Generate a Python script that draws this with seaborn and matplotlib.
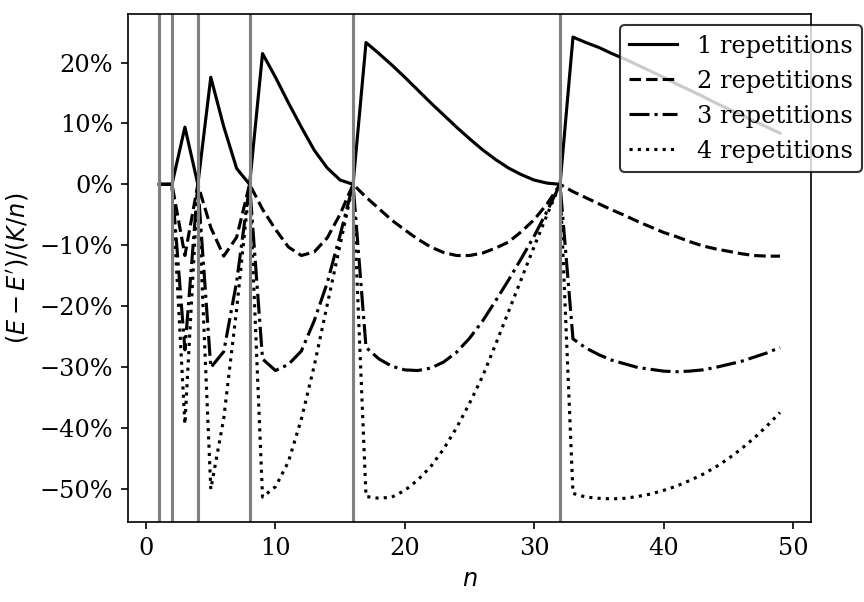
import matplotlib
matplotlib.use("Agg")
import matplotlib.pyplot as plt
from matplotlib.ticker import PercentFormatter
import seaborn as sns
import numpy as np

plt.rcParams['font.family'] = 'serif'
plt.rcParams['font.serif'] = ['DejaVu Serif']
plt.rcParams['mathtext.fontset'] = 'dejavusans'
plt.rcParams['font.size'] = 11.5

n = list(range(1, 50))

rep1 = [0, 0, 9.4, 0, 17.6, 9.5, 2.6, 0,
        21.5, 17.6, 13.4, 9.4, 5.6, 2.7, 0.7, 0,
        23.3, 21.5, 19.6, 17.6, 15.5, 13.4, 11.4, 9.4, 7.5, 5.7, 4.1, 2.7, 1.6, 0.7, 0.2, 0,
        24.2, 23.3, 22.5, 21.5, 20.6, 19.6, 18.6, 17.6, 16.5, 15.5, 14.5, 13.4, 12.4, 11.4, 10.4, 9.4, 8.4]

rep2 = [0, 0, -11.7, 0, -7.1, -11.8, -8.7, 0,
        -4.1, -7.4, -10.3, -11.7, -11.1, -8.8, -4.9, 0,
        -2.1, -4.0, -5.9, -7.5, -9.0, -10.3, -11.2, -11.7, -11.7, -11.3, -10.5, -9.5, -7.8, -5.8, -3.2, 0,
        -1.2, -2.2, -3.2, -4.2, -5.1, -6.1, -7.0, -7.9, -8.6, -9.4, -10.1, -10.6, -11.0, -11.4, -11.7, -11.8, -11.8]

rep3 = [0, 0, -27.2, 0, -30.1, -27.5, -16.0, 0,
        -28.7, -30.6, -29.6, -27.4, -22.4, -16.2, -8.3, 0,
        -26.8, -28.7, -29.9, -30.5, -30.6, -30.2, -29.2, -27.6, -25.3, -22.5, -19.2, -15.8, -12.2, -8.5, -4.4, 0,
        -25.4, -26.9, -28.0, -28.9, -29.5, -30.1, -30.4, -30.7, -30.8, -30.7, -30.5, -30.1, -29.6, -29.1, -28.4, -27.7, -26.8]

rep4 = [0, 0, -39.4, 0, -50.1, -38.5, -20.5, 0,
        -51.4, -49.7, -45.6, -38.6, -29.8, -19.8, -9.9, 0,
        -51.3, -51.6, -51.4, -50.3, -48.6, -46.4, -43.5, -40.0, -36.0, -31.6, -26.4, -21.0, -15.6, -10.2, -5.0, 0,
        -50.8, -51.4, -51.6, -51.7, -51.6, -51.3, -50.9, -50.3, -49.6, -48.7, -47.7, -46.5, -45.1, -43.5, -41.7, -39.7, -37.5]

labels = ["1 repetitions", "2 repetitions", "3 repetitions", "4 repetitions"]
styles = ["-", "--", "-.", ":"]
powers = [1, 2, 4, 8, 16, 32]

fig = plt.figure(figsize=(5.76, 602 / 150), dpi=150)
ax = fig.add_axes([128 / 864, 1 - 522 / 602, (811 - 128) / 864, (522 - 14) / 602])

for vals, lab, ls in zip([rep1, rep2, rep3, rep4], labels, styles):
    sns.lineplot(x=n, y=vals, ax=ax, color="black", linestyle=ls, linewidth=1.5, label=lab)

for p in powers:
    ax.axvline(p, color="gray", linewidth=1.5)

ax.yaxis.set_major_formatter(PercentFormatter(xmax=100, decimals=0))
ax.set_xlabel(r"$n$")
ax.set_ylabel(r"$(E-E')/(K/n)$")
ax.legend(loc="upper right", bbox_to_anchor=(1.0747, 0.978), borderaxespad=0,
          edgecolor="black", framealpha=0.8)

fig.savefig("out.png", dpi=150)
